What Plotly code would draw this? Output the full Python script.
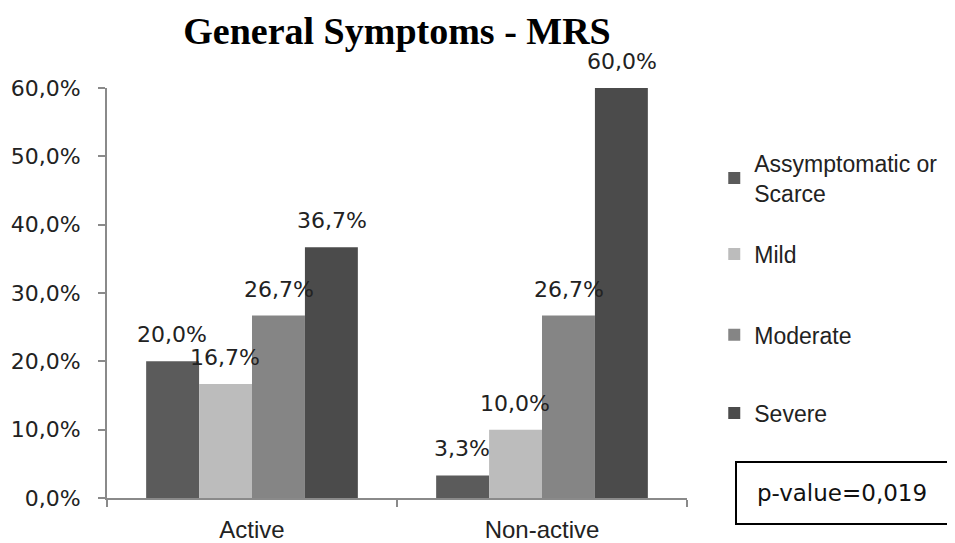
import plotly.graph_objects as go

categories = ["Active", "Non-active"]
series_names = ["Assymptomatic or<br>Scarce", "Mild", "Moderate", "Severe"]
values = {
    "Assymptomatic or<br>Scarce": [20.0, 3.3],
    "Mild": [16.7, 10.0],
    "Moderate": [26.7, 26.7],
    "Severe": [36.7, 60.0],
}
colors = ["#5b5b5b", "#bcbcbc", "#858585", "#4b4b4b"]
y_ticks = [0, 10, 20, 30, 40, 50, 60]
y_tick_text = [f"{v:.1f}%".replace(".", ",") for v in y_ticks]

# page is drawn with the browser's default 8px body margin
W, H = 947, 535
L, R, T, B = 99, 265, 80, 45
BARGAP = 0.27
plot_w = W - L - R
bar_w = plot_w / len(categories) * (1 - BARGAP) / len(series_names)

legend_names = ["legend", "legend2", "legend3", "legend4"]
legend_y = [0.780, 0.595, 0.398, 0.207]

fig = go.Figure()
for i, name in enumerate(series_names):
    fig.add_trace(go.Bar(
        x=categories, y=values[name], name=name,
        marker=dict(color=colors[i], line=dict(width=0)),
        legend=legend_names[i],
    ))
    for c, v in zip(categories, values[name]):
        fig.add_annotation(
            x=c, y=v, xref="x", yref="y", showarrow=False,
            text=f"{v:.1f}%".replace(".", ","),
            xanchor="center", yanchor="bottom",
            xshift=(i - (len(series_names) - 1) / 2) * bar_w, yshift=12,
            font=dict(family="DejaVu Sans", size=22, color="#222"),
        )

legend_style = dict(x=1.047, xanchor="left", yanchor="middle",
                    font=dict(family="Liberation Sans", size=23, color="#222"),
                    itemwidth=30, bgcolor="rgba(0,0,0,0)")

fig.update_layout(
    width=W, height=H,
    margin=dict(l=L, r=R, t=T, b=B),
    plot_bgcolor="white", paper_bgcolor="white",
    barmode="group", bargap=BARGAP, bargroupgap=0,
    title=dict(text="<b>General Symptoms - MRS</b>", x=0.5, xref="paper",
               y=0.958, yref="container", yanchor="middle",
               font=dict(family="Liberation Serif", size=38, color="black")),
    legend=dict(y=legend_y[0], **legend_style),
    legend2=dict(y=legend_y[1], **legend_style),
    legend3=dict(y=legend_y[2], **legend_style),
    legend4=dict(y=legend_y[3], **legend_style),
    showlegend=True,
)
fig.update_xaxes(
    showline=True, linecolor="#8a8a8a", linewidth=2,
    ticks="outside", tickson="boundaries", ticklen=7, tickcolor="#8a8a8a", tickwidth=2,
    tickfont=dict(family="Liberation Sans", size=24, color="#222"),
    ticklabelstandoff=9, automargin=False,
    showgrid=False,
)
fig.update_yaxes(
    range=[0, 60], tickvals=y_ticks, ticktext=y_tick_text,
    showline=True, linecolor="#8a8a8a", linewidth=2,
    ticks="outside", ticklen=7, tickcolor="#8a8a8a", tickwidth=2,
    tickfont=dict(family="DejaVu Sans", size=22, color="#222"),
    ticklabelstandoff=13, automargin=False,
    showgrid=False, zeroline=False,
)
fig.add_annotation(
    xref="paper", yref="paper", x=1.082, y=0.012, xanchor="left", yanchor="middle",
    text="p-value=0,019", showarrow=False,
    font=dict(family="DejaVu Sans", size=23, color="#111"),
    bordercolor="black", borderwidth=2, width=208, height=58, bgcolor="white",
)
fig.write_html("out.html")
